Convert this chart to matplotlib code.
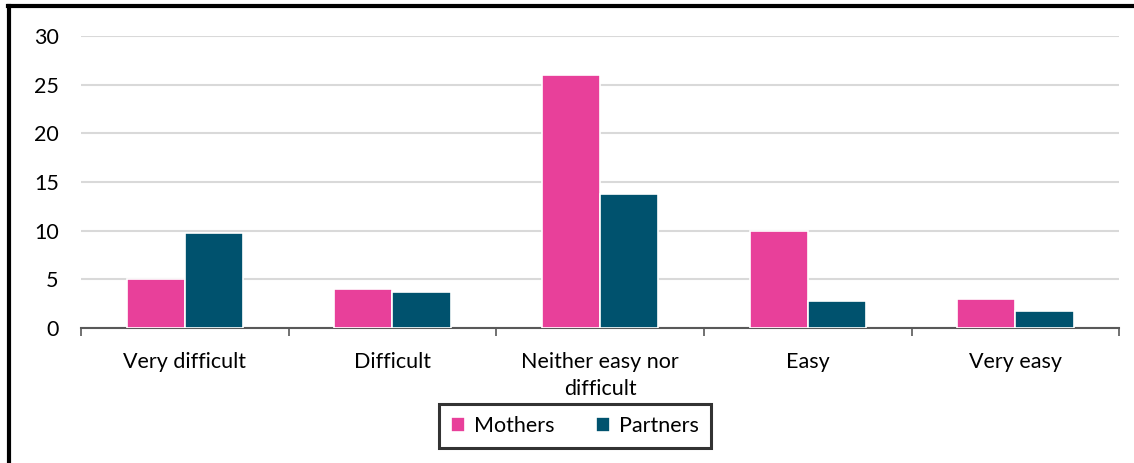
import matplotlib.pyplot as plt
import numpy as np
from matplotlib.lines import Line2D

plt.rcParams['font.family'] = ['Lato', 'DejaVu Sans']

categories = ['Very difficult', 'Difficult', 'Neither easy nor\ndifficult', 'Easy', 'Very easy']
mothers = [5, 4, 26, 10, 3]
partners = [9.8, 3.7, 13.8, 2.8, 1.7]

pink = '#E8409A'
teal = '#00526E'

fig = plt.figure(figsize=(11.34, 4.63), dpi=100)
ax = fig.add_axes([0.0714, 0.2916, 0.9156, 0.6306])

x = np.arange(len(categories))
w = 0.28
ax.bar(x - w / 2, mothers, w, color=pink, edgecolor='white', linewidth=1.2, label='Mothers', zorder=3)
ax.bar(x + w / 2, partners, w, color=teal, edgecolor='white', linewidth=1.2, label='Partners', zorder=3)

ax.set_xlim(-0.5, len(categories) - 0.5)
ax.set_ylim(0, 30)
ax.set_yticks(range(0, 31, 5))
ax.yaxis.grid(True, color='#d9d9d9', linewidth=1.5, zorder=0)
ax.set_axisbelow(True)

# category labels centred, ticks on the boundaries
ax.set_xticks(x)
ax.set_xticklabels(categories, fontsize=15.5, linespacing=1.45)
ax.tick_params(axis='x', length=0, pad=17)
ax.set_xticks(np.arange(-0.5, len(categories), 1), minor=True)
ax.tick_params(axis='x', which='minor', length=6, width=1.2, color='#595959')
ax.tick_params(axis='y', length=0, pad=16, labelsize=15.5)

for s in ['top', 'right', 'left']:
    ax.spines[s].set_visible(False)
ax.spines['bottom'].set_color('#595959')
ax.spines['bottom'].set_linewidth(1.5)

leg = fig.legend(loc='center', bbox_to_anchor=(0.507, 0.08), ncol=2, fontsize=15.5,
                 frameon=True, fancybox=False, handlelength=0.65, handleheight=0.65,
                 columnspacing=1.9, handletextpad=0.45, borderpad=0.55)
leg.get_frame().set_edgecolor('black')
leg.get_frame().set_linewidth(2.2)

# outer border (only left and top visible in the reference)
fig.add_artist(Line2D([0.008, 0.008], [0, 0.988], color='black', linewidth=3, transform=fig.transFigure))
fig.add_artist(Line2D([0.007, 1], [0.987, 0.987], color='black', linewidth=3, transform=fig.transFigure))

fig.savefig('out.png', dpi=100)
